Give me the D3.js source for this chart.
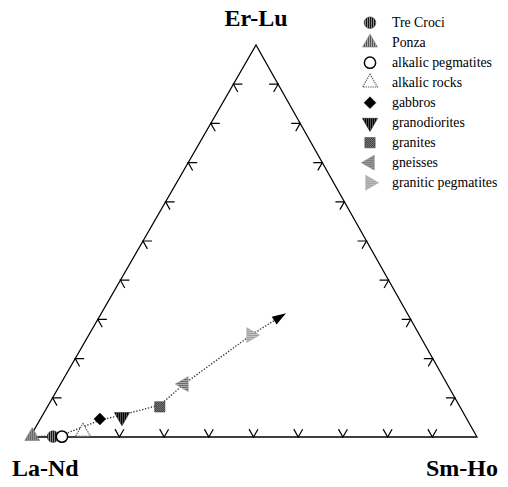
<!DOCTYPE html>
<html>
<head>
<meta charset="utf-8">
<script src="https://cdn.jsdelivr.net/npm/d3@7/dist/d3.min.js"></script>
<style>
  html, body { margin: 0; padding: 0; background: #fff; }
  svg { display: block; }
  svg text { font-family: "Liberation Serif", "Tinos", "DejaVu Serif", "Times New Roman", serif; }
</style>
</head>
<body>
<svg id="chart" width="508" height="487"></svg>
<script>
// Ternary REE diagram: La-Nd / Sm-Ho / Er-Lu (percent)
const apexLabels = ["La-Nd", "Sm-Ho", "Er-Lu"];
const seriesNames = ["Tre Croci", "Ponza", "alkalic pegmatites", "alkalic rocks",
  "gabbros", "granodiorites", "granites", "gneisses", "granitic pegmatites"];
// [La-Nd, Sm-Ho, Er-Lu]
const laNd = [94.8, 99.4, 92.8, 87.5, 82.1, 76.9, 67.3, 58.9, 37.7];
const smHo = [5.1, 0.4, 7.1, 11.2, 13.3, 18.0, 25.2, 27.6, 36.3];
const erLu = [0.1, 0.2, 0.1, 1.3, 4.6, 5.1, 7.7, 13.5, 26.0];
// Evolution trend (dotted arrow)
const trendLaNd = [99.5, 92.6, 82.2, 76.6, 66.8, 58.9, 37.7, 27.1];
const trendSmHo = [0.5, 6.9, 13.5, 17.7, 25.0, 27.6, 36.3, 41.3];
const trendErLu = [0.0, 0.5, 4.3, 5.6, 8.2, 13.5, 26.0, 31.6];
const tickSteps = [10, 20, 30, 40, 50, 60, 70, 80, 90];
const bottomTickSteps = [20, 30, 40, 50, 60, 70, 80, 90];

const svg = d3.select("#chart");
const defs = svg.append("defs");

// Triangle frame
const BL = [30, 437], BR = [477, 437], TOP = [256, 45];
const yScale = d3.scaleLinear().domain([0, 100]).range([BL[1], TOP[1]]);
const bScale = d3.scaleLinear().domain([0, 100]).range([0, BR[0] - BL[0]]);
const cShift = d3.scaleLinear().domain([0, 100]).range([0, TOP[0] - BL[0]]);
function proj(a, b, c) {
  const s = a + b + c;
  const bb = b / s * 100, cc = c / s * 100;
  return [BL[0] + bScale(bb) + cShift(cc), yScale(cc)];
}

// fill patterns
function stripePattern(id, c1, c2, w) {
  const p = defs.append("pattern").attr("id", id).attr("patternUnits", "userSpaceOnUse")
    .attr("width", w * 2).attr("height", 4);
  p.append("rect").attr("width", w * 2).attr("height", 4).attr("fill", c2);
  p.append("rect").attr("width", w).attr("height", 4).attr("fill", c1);
}
stripePattern("pTre", "#111", "#8a8a8a", 1);
stripePattern("pPonza", "#555", "#aaa", 1);
stripePattern("pGrano", "#000", "#555", 1);
stripePattern("pGneiss", "#666", "#b0b0b0", 1);
stripePattern("pPeg", "#999", "#c8c8c8", 1);
const chk = defs.append("pattern").attr("id", "pGran").attr("patternUnits", "userSpaceOnUse")
  .attr("width", 2).attr("height", 2);
chk.append("rect").attr("width", 2).attr("height", 2).attr("fill", "#999");
chk.append("rect").attr("width", 1).attr("height", 1).attr("fill", "#222");
chk.append("rect").attr("x", 1).attr("y", 1).attr("width", 1).attr("height", 1).attr("fill", "#222");

const styles = [
  { type: d3.symbolCircle, size: 105, fill: "url(#pTre)", stroke: "#333", sw: 0.6, rot: 0 },
  { type: d3.symbolTriangle, size: 95, fill: "url(#pPonza)", stroke: "#777", sw: 0.6, rot: 0 },
  { type: d3.symbolCircle, size: 100, fill: "#fff", stroke: "#000", sw: 1.5, rot: 0 },
  { type: d3.symbolTriangle, size: 95, fill: "#fff", stroke: "#555", sw: 1.1, rot: 0, dash: "1.3,1" },
  { type: d3.symbolSquare, size: 70, fill: "#000", stroke: "#000", sw: 0.5, rot: 45 },
  { type: d3.symbolTriangle, size: 100, fill: "url(#pGrano)", stroke: "#222", sw: 0.6, rot: 180 },
  { type: d3.symbolSquare, size: 105, fill: "url(#pGran)", stroke: "#444", sw: 0.6, rot: 0 },
  { type: d3.symbolTriangle, size: 95, fill: "url(#pGneiss)", stroke: "#888", sw: 0.6, rot: -90 },
  { type: d3.symbolTriangle, size: 95, fill: "url(#pPeg)", stroke: "#aaa", sw: 0.6, rot: 90 }
];

// frame
const g = svg.append("g");
g.append("path")
  .attr("d", d3.line()([proj(100, 0, 0), proj(0, 100, 0), proj(0, 0, 100)]) + "Z")
  .attr("fill", "none").attr("stroke", "#000").attr("stroke-width", 1.3)
  .attr("stroke-linejoin", "miter");

// tick marks: two short arms per tick, along the inner grid directions
const armLen = 9;
const dirRight = [1, 0], dirLeft = [-1, 0];
const len = (v) => Math.hypot(v[0], v[1]);
const norm = (v) => [v[0] / len(v), v[1] / len(v)];
const downRight = norm([BR[0] - TOP[0], BR[1] - TOP[1]]);
const downLeft = norm([BL[0] - TOP[0], BL[1] - TOP[1]]);
const upLeft = [-downRight[0], -downRight[1]];
const upRight = [-downLeft[0], -downLeft[1]];
function drawTick(p, d1, d2) {
  g.append("path")
    .attr("d", d3.line()([
      [p[0] + d1[0] * armLen, p[1] + d1[1] * armLen], p,
      [p[0] + d2[0] * armLen, p[1] + d2[1] * armLen]]))
    .attr("fill", "none").attr("stroke", "#000").attr("stroke-width", 1.2);
}
// left side (La-Nd / Er-Lu edge)
tickSteps.forEach(t => drawTick(proj(100 - t, 0, t), dirRight, downRight));
// right side (Sm-Ho / Er-Lu edge)
tickSteps.forEach(t => drawTick(proj(0, 100 - t, t), dirLeft, downLeft));
// bottom side
bottomTickSteps.forEach(t => drawTick(proj(100 - t, t, 0), upLeft, upRight));

// trend line with arrowhead
const trend = trendLaNd.map((a, i) => proj(a, trendSmHo[i], trendErLu[i]));
const tail = trend[trend.length - 2], tip = trend[trend.length - 1];
const dir = norm([tip[0] - tail[0], tip[1] - tail[1]]);
g.append("path")
  .attr("d", d3.line()(trend.slice(0, -1).concat([[tip[0] - dir[0] * 10, tip[1] - dir[1] * 10]])))
  .attr("fill", "none").attr("stroke", "#333").attr("stroke-width", 1.4)
  .attr("stroke-dasharray", "1.3,1.7");
{
  const n = [-dir[1], dir[0]];
  const L = 14, W = 4.5;
  const base = [tip[0] - dir[0] * L, tip[1] - dir[1] * L];
  g.append("path")
    .attr("d", d3.line()([tip, [base[0] + n[0] * W, base[1] + n[1] * W],
      [base[0] - n[0] * W, base[1] - n[1] * W]]) + "Z")
    .attr("fill", "#000");
}

// data points
function drawSymbol(sel, st, x, y) {
  sel.append("path")
    .attr("d", d3.symbol().type(st.type).size(st.size)())
    .attr("transform", `translate(${x},${y}) rotate(${st.rot})`)
    .attr("fill", st.fill).attr("stroke", st.stroke).attr("stroke-width", st.sw)
    .attr("stroke-dasharray", st.dash || null);
}
const order = [3, 1, 0, 2, 4, 5, 6, 7, 8];
order.forEach(i => {
  const p = proj(laNd[i], smHo[i], erLu[i]);
  drawSymbol(g, styles[i], p[0], p[1]);
});

// apex labels
svg.append("text").attr("x", 256).attr("y", 26).attr("text-anchor", "middle")
  .attr("font-weight", "bold").attr("font-size", 24)
  .text(apexLabels[2]);
svg.append("text").attr("x", 12).attr("y", 476)
  .attr("font-weight", "bold").attr("font-size", 24)
  .text(apexLabels[0]);
svg.append("text").attr("x", 498).attr("y", 476).attr("text-anchor", "end")
  .attr("font-weight", "bold").attr("font-size", 24)
  .text(apexLabels[1]);

// legend
const legend = svg.append("g");
seriesNames.forEach((name, i) => {
  const cy = 22.7 + i * 20;
  drawSymbol(legend, styles[i], 370, cy);
  legend.append("text").attr("x", 392).attr("y", cy + 4.5)
    .attr("font-size", 13.8).attr("fill", "#000")
    .text(name);
});
</script>
</body>
</html>
